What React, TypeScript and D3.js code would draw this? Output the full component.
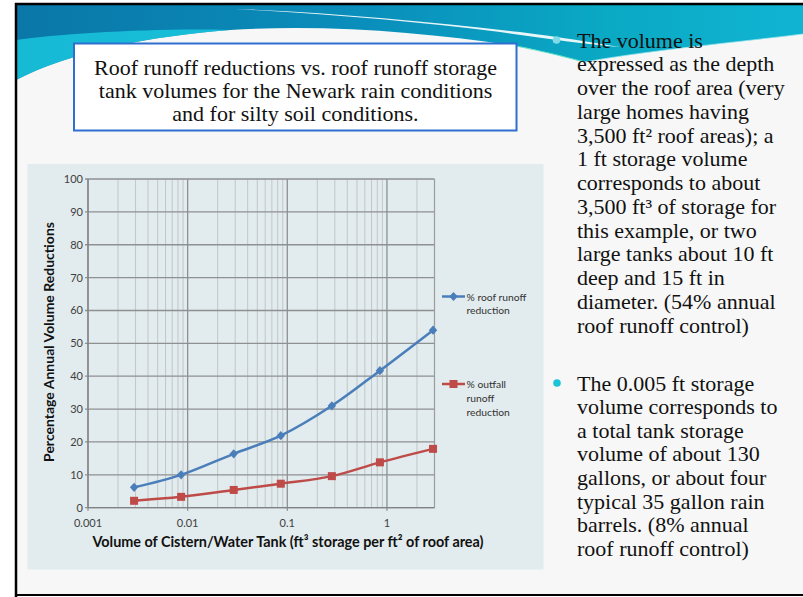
import React from "react";
import * as d3 from "d3";

const xVals = [0.0029, 0.0086, 0.029, 0.086, 0.28, 0.85, 2.9];
const roofRunoff = [6.2, 10.0, 16.4, 21.9, 31.0, 41.7, 54.0];
const outfallRunoff = [2.1, 3.3, 5.4, 7.3, 9.6, 13.8, 17.9];
const xTicks = [0.001, 0.01, 0.1, 1];
const xTickLabels = ["0.001", "0.01", "0.1", "1"];
const yTicks = [0, 10, 20, 30, 40, 50, 60, 70, 80, 90, 100];
const seriesNames = [["% roof runoff", "reduction"], ["% outfall", "runoff", "reduction"]];
const titleLines = [
  "Roof runoff reductions vs. roof runoff storage",
  "tank volumes for the Newark rain conditions",
  "and for silty soil conditions.",
];
const para1 = [
  "The volume is",
  "expressed as the depth",
  "over the roof area (very",
  "large homes having",
  "3,500 ft\u00b2 roof areas); a",
  "1 ft storage volume",
  "corresponds to about",
  "3,500 ft\u00b3 of storage for",
  "this example, or two",
  "large tanks about 10 ft",
  "deep and 15 ft in",
  "diameter. (54% annual",
  "roof runoff control)",
];
const para2 = [
  "The 0.005 ft storage",
  "volume corresponds to",
  "a total tank storage",
  "volume of about 130",
  "gallons, or about four",
  "typical 35 gallon rain",
  "barrels. (8% annual",
  "roof runoff control)",
];

const BLUE = "#4a7ebb";
const RED = "#be4b48";
const chartFont = "Lato, 'Open Sans', sans-serif";
const serif = "'Liberation Serif', 'Times New Roman', serif";

export default function App() {
  const x = d3.scaleLog().domain([0.001, 3]).range([88, 434.5]);
  const y = d3.scaleLinear().domain([0, 100]).range([507.7, 179]);

  const minor: number[] = [];
  xTicks.forEach((d) => {
    for (let k = 2; k <= 9; k++) if (d * k <= 3.0001) minor.push(d * k);
  });

  const line = d3
    .line<number>()
    .x((_, i) => x(xVals[i]))
    .y((v) => y(v))
    .curve(d3.curveCatmullRom.alpha(0.5));

  const diamond = "M0,-4.6L4.2,0L0,4.6L-4.2,0Z";
  const [x0, x1] = x.range();
  const [yb, yt] = y.range();

  return (
    <svg
      width={803}
      height={597}
      style={{ position: "absolute", left: 0, top: 0 }}
      xmlns="http://www.w3.org/2000/svg"
    >
      <defs>
        <linearGradient id="hdr" x1="0" y1="0" x2="1" y2="0">
          <stop offset="0" stopColor="#0a77a8" />
          <stop offset="0.45" stopColor="#0a8fbc" />
          <stop offset="0.75" stopColor="#0aa9c4" />
          <stop offset="1" stopColor="#10b4d2" />
        </linearGradient>
      </defs>
      <rect x={0} y={0} width={803} height={597} fill="#ffffff" />
      <rect x={16} y={4} width={800} height={591} fill="#f7f7f7" />
      {/* header wave */}
      <path
        d="M16,4L803,4L803,34C740,42 650,50 585,62C560,56 540,50 515,46C430,33 330,24 230,30C150,36 70,52 16,80Z"
        fill="url(#hdr)"
      />
      <path
        d="M16,40C60,34 150,28 230,30C150,36 70,52 16,80Z"
        fill="#1cd0e4"
        opacity={0.75}
      />
      <path
        d="M235,9C330,12 430,22 520,32C560,37 590,42 620,47C585,44 540,38 500,32C420,22 330,14 235,9Z"
        fill="#ffffff"
        opacity={0.9}
      />
      <path d="M585,62C560,56 540,50 515,46" stroke="#5fe0c8" strokeWidth={1.2} fill="none" />
      <path d="M585,62C650,50 740,42 803,34" stroke="#9fe8f0" strokeWidth={1} fill="none" opacity={0.7} />
      {/* frame */}
      <path d="M16,597L16,4L803,4" fill="none" stroke="#000" strokeWidth={2.5} />
      <line x1={16} y1={595} x2={803} y2={595} stroke="#000" strokeWidth={2} />

      {/* title box */}
      <rect x={74} y={43.5} width={442.5} height={87} fill="#ffffff" stroke="#2f6fd0" strokeWidth={2} />
      {titleLines.map((t, i) => (
        <text
          key={i}
          x={295.5}
          y={75 + i * 23}
          textAnchor="middle"
          fontFamily={serif}
          fontSize={22}
          fill="#111"
        >
          {t}
        </text>
      ))}

      {/* chart panel */}
      <rect x={27.5} y={164} width={516} height={405.5} fill="#e2ebed" />

      {/* minor vertical gridlines */}
      {minor.map((m, i) => (
        <line key={"m" + i} x1={x(m)} x2={x(m)} y1={yt} y2={yb} stroke="#c3c7c9" strokeWidth={1} />
      ))}
      {/* horizontal gridlines */}
      {yTicks.map((t) => (
        <line key={"h" + t} x1={x0 - 3} x2={x1} y1={y(t)} y2={y(t)} stroke="#8e9192" strokeWidth={1.3} />
      ))}
      {/* major vertical */}
      {xTicks.map((t) => (
        <line key={"v" + t} x1={x(t)} x2={x(t)} y1={yt} y2={yb + 3} stroke="#8e9192" strokeWidth={1.3} />
      ))}
      <line x1={x1} x2={x1} y1={yt} y2={yb} stroke="#9a9d9e" strokeWidth={1.2} />
      <line x1={x0} x2={x0} y1={yt} y2={yb} stroke="#808384" strokeWidth={1.3} />
      <line x1={x0} x2={x1} y1={yb} y2={yb} stroke="#808384" strokeWidth={1.3} />

      {/* y tick labels */}
      {yTicks.map((t) => (
        <text
          key={"yl" + t}
          x={83}
          y={y(t) + 4}
          textAnchor="end"
          fontFamily={chartFont}
          fontSize={11}
          fill="#404040"
        >
          {t}
        </text>
      ))}
      {xTicks.map((t, i) => (
        <text
          key={"xl" + t}
          x={x(t)}
          y={527}
          textAnchor="middle"
          fontFamily={chartFont}
          fontSize={11}
          fill="#404040"
        >
          {xTickLabels[i]}
        </text>
      ))}

      {/* axis titles */}
      <text
        x={288}
        y={547}
        textAnchor="middle"
        fontFamily={chartFont}
        fontSize={14.4}
        fontWeight="bold"
        fill="#111"
      >
        Volume of Cistern/Water Tank (ft³ storage per ft² of roof area)
      </text>
      <text
        transform="translate(54,342) rotate(-90)"
        textAnchor="middle"
        fontFamily={chartFont}
        fontSize={14}
        fontWeight="bold"
        fill="#111"
      >
        Percentage Annual Volume Reductions
      </text>

      {/* series */}
      <path d={line(roofRunoff) || ""} fill="none" stroke={BLUE} strokeWidth={2.5} />
      <path d={line(outfallRunoff) || ""} fill="none" stroke={RED} strokeWidth={2.5} />
      {roofRunoff.map((v, i) => (
        <path key={"bd" + i} d={diamond} transform={`translate(${x(xVals[i])},${y(v)})`} fill={BLUE} />
      ))}
      {outfallRunoff.map((v, i) => (
        <rect key={"rs" + i} x={x(xVals[i]) - 4} y={y(v) - 4} width={8} height={8} fill={RED} />
      ))}

      {/* legend */}
      <line x1={442} x2={465} y1={296.5} y2={296.5} stroke={BLUE} strokeWidth={2.5} />
      <path d={diamond} transform="translate(453.5,296.5)" fill={BLUE} />
      {seriesNames[0].map((s, i) => (
        <text key={"l0" + i} x={466.5} y={300.5 + i * 13.5} fontFamily={chartFont} fontSize={10.3} fill="#333">
          {s}
        </text>
      ))}
      <line x1={442} x2={465} y1={384} y2={384} stroke={RED} strokeWidth={2.5} />
      <rect x={449.5} y={380} width={8} height={8} fill={RED} />
      {seriesNames[1].map((s, i) => (
        <text key={"l1" + i} x={466.5} y={388 + i * 13.8} fontFamily={chartFont} fontSize={10.3} fill="#333">
          {s}
        </text>
      ))}

      {/* right text */}
      <circle cx={556.5} cy={40} r={3.8} fill="#7fdbe8" />
      {para1.map((t, i) => (
        <text key={"p1" + i} x={577} y={47.5 + i * 23.75} fontFamily={serif} fontSize={22} fill="#111">
          {t}
        </text>
      ))}
      <circle cx={557} cy={383} r={3.8} fill="#1cc4d8" />
      {para2.map((t, i) => (
        <text key={"p2" + i} x={577} y={390.5 + i * 23.6} fontFamily={serif} fontSize={22} fill="#111">
          {t}
        </text>
      ))}
    </svg>
  );
}
